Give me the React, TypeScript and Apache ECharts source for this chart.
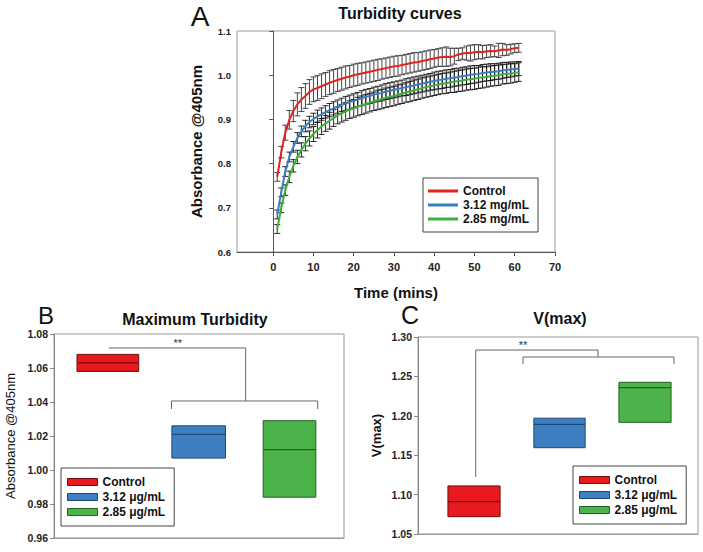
import React, { useEffect, useRef } from "react";
import * as echarts from "echarts";

const FONT = "'Liberation Sans', Arial, Helvetica, sans-serif";

// ---------- Panel A data ----------
const TIME_MIN = [
  1, 2, 3, 4, 5, 6, 7, 8, 9, 10, 11, 12, 13, 14, 15, 16, 17, 18, 19, 20,
  21, 22, 23, 24, 25, 26, 27, 28, 29, 30, 31, 32, 33, 34, 35, 36, 37, 38, 39, 40,
  41, 42, 43, 44, 45, 46, 47, 48, 49, 50, 51, 52, 53, 54, 55, 56, 57, 58, 59, 60, 61,
];
const CONTROL_ABS = [
  0.770, 0.826, 0.870, 0.899, 0.919, 0.934, 0.945, 0.953, 0.962, 0.968,
  0.971, 0.975, 0.979, 0.983, 0.986, 0.989, 0.992, 0.995, 0.997, 1.000,
  1.002, 1.004, 1.006, 1.008, 1.010, 1.012, 1.014, 1.016, 1.018, 1.020,
  1.021, 1.023, 1.025, 1.027, 1.029, 1.030, 1.032, 1.034, 1.036, 1.038,
  1.040, 1.041, 1.042, 1.041, 1.043, 1.047, 1.049, 1.050, 1.050, 1.052,
  1.053, 1.052, 1.054, 1.055, 1.054, 1.056, 1.058, 1.057, 1.059, 1.061, 1.062,
];
const CONTROL_ERR = [
  0.010, 0.013, 0.017, 0.021, 0.024, 0.026, 0.027, 0.028, 0.028, 0.028,
  0.028, 0.028, 0.027, 0.027, 0.027, 0.026, 0.026, 0.026, 0.025, 0.025,
  0.025, 0.024, 0.024, 0.024, 0.024, 0.024, 0.023, 0.023, 0.023, 0.023,
  0.023, 0.022, 0.022, 0.022, 0.022, 0.021, 0.021, 0.021, 0.021, 0.020,
  0.020, 0.021, 0.022, 0.020, 0.018, 0.014, 0.013, 0.016, 0.018, 0.017,
  0.016, 0.015, 0.014, 0.014, 0.012, 0.016, 0.014, 0.012, 0.011, 0.010, 0.010,
];
const DOSE312_ABS = [
  0.685, 0.735, 0.782, 0.815, 0.838, 0.858, 0.873, 0.885, 0.894, 0.901,
  0.907, 0.912, 0.917, 0.921, 0.925, 0.929, 0.933, 0.936, 0.939, 0.942,
  0.945, 0.948, 0.951, 0.953, 0.956, 0.958, 0.960, 0.963, 0.965, 0.967,
  0.969, 0.971, 0.973, 0.975, 0.977, 0.979, 0.981, 0.983, 0.985, 0.987,
  0.989, 0.990, 0.992, 0.993, 0.995, 0.996, 0.998, 0.999, 1.001, 1.002,
  1.003, 1.005, 1.006, 1.007, 1.008, 1.009, 1.011, 1.012, 1.013, 1.014, 1.015,
];
const DOSE312_ERR = [
  0.010, 0.010, 0.011, 0.011, 0.012, 0.012, 0.012, 0.013, 0.013, 0.013,
  0.014, 0.014, 0.014, 0.015, 0.015, 0.015, 0.015, 0.016, 0.016, 0.016,
  0.016, 0.017, 0.017, 0.017, 0.017, 0.017, 0.018, 0.018, 0.018, 0.018,
  0.018, 0.018, 0.019, 0.019, 0.019, 0.019, 0.019, 0.019, 0.019, 0.020,
  0.020, 0.020, 0.020, 0.020, 0.020, 0.020, 0.020, 0.020, 0.020, 0.020,
  0.019, 0.019, 0.019, 0.019, 0.018, 0.018, 0.018, 0.017, 0.017, 0.016, 0.016,
];
const DOSE285_ABS = [
  0.652, 0.700, 0.740, 0.770, 0.795, 0.815, 0.831, 0.845, 0.857, 0.867,
  0.876, 0.884, 0.891, 0.897, 0.903, 0.909, 0.914, 0.918, 0.922, 0.925,
  0.929, 0.932, 0.935, 0.938, 0.941, 0.944, 0.946, 0.949, 0.951, 0.953,
  0.956, 0.958, 0.961, 0.963, 0.966, 0.968, 0.971, 0.973, 0.975, 0.977,
  0.979, 0.981, 0.982, 0.984, 0.985, 0.987, 0.988, 0.990, 0.991, 0.992,
  0.994, 0.995, 0.996, 0.998, 0.999, 1.000, 1.002, 1.003, 1.004, 1.005, 1.007,
];
const DOSE285_ERR = [
  0.010, 0.011, 0.012, 0.013, 0.014, 0.015, 0.016, 0.016, 0.017, 0.017,
  0.018, 0.018, 0.018, 0.019, 0.019, 0.019, 0.020, 0.020, 0.020, 0.020,
  0.021, 0.021, 0.021, 0.021, 0.021, 0.022, 0.022, 0.022, 0.022, 0.022,
  0.022, 0.022, 0.022, 0.023, 0.023, 0.023, 0.023, 0.023, 0.023, 0.023,
  0.023, 0.023, 0.023, 0.023, 0.024, 0.024, 0.024, 0.024, 0.024, 0.024,
  0.024, 0.024, 0.023, 0.023, 0.023, 0.023, 0.022, 0.022, 0.022, 0.021, 0.021,
];
const A_X_TICKS = [0, 10, 20, 30, 40, 50, 60, 70];
const A_NAMES = ["Control", "3.12 mg/mL", "2.85 mg/mL"];

// ---------- Panel B / C data ----------
const BC_NAMES = ["Control", "3.12 \u03bcg/mL", "2.85 \u03bcg/mL"];
const MAXTURB_LOW = [1.058, 1.007, 0.984];
const MAXTURB_MED = [1.063, 1.021, 1.012];
const MAXTURB_HIGH = [1.068, 1.026, 1.029];
const VMAX_LOW = [1.072, 1.1595, 1.1917];
const VMAX_MED = [1.091, 1.189, 1.2357];
const VMAX_HIGH = [1.111, 1.197, 1.2425];

// ---------- styles ----------
const LINE_COLORS = ["#e2231a", "#3a7dc2", "#3daf3c"];
const BOX_FILLS = ["#e8191f", "#3d7fc1", "#4cb34a"];
const BOX_STROKES = ["#6e1010", "#1f4a78", "#245f24"];
const ERR_COLORS = ["#333333", "#111111", "#111111"];
const BOX_W_B = [0.68, 0.59, 0.58];
const BOX_W_C = [0.61, 0.6, 0.61];

function errorBarRender(color: string) {
  return (_p: any, api: any) => {
    const x = api.value(0);
    const lo = api.coord([x, api.value(1)]);
    const hi = api.coord([x, api.value(2)]);
    const cap = 3;
    return {
      type: "group",
      children: [
        { type: "line", shape: { x1: lo[0], y1: lo[1], x2: hi[0], y2: hi[1] }, style: { stroke: color, lineWidth: 0.9 } },
        { type: "line", shape: { x1: lo[0] - cap, y1: lo[1], x2: lo[0] + cap, y2: lo[1] }, style: { stroke: color, lineWidth: 0.9 } },
        { type: "line", shape: { x1: hi[0] - cap, y1: hi[1], x2: hi[0] + cap, y2: hi[1] }, style: { stroke: color, lineWidth: 0.9 } },
      ],
    };
  };
}

function boxRender(fill: string, stroke: string, width: number) {
  return (_p: any, api: any) => {
    const x = api.value(0);
    const lo = api.coord([x, api.value(1)]);
    const med = api.coord([x, api.value(2)]);
    const hi = api.coord([x, api.value(3)]);
    const w = api.size([width, 0])[0];
    return {
      type: "group",
      children: [
        {
          type: "rect",
          shape: { x: lo[0] - w / 2, y: hi[1], width: w, height: lo[1] - hi[1] },
          style: { fill, stroke, lineWidth: 1 },
        },
        {
          type: "line",
          shape: { x1: lo[0] - w / 2, y1: med[1], x2: lo[0] + w / 2, y2: med[1] },
          style: { stroke, lineWidth: 1.3 },
        },
      ],
    };
  };
}

// bracket annotation geometry (axis units)
const BRACKET_B = { topY: 1.0718, midY: 1.0406, endY: 1.0359, x0: 1.01, xMid: 2.517, x1: 1.7, x2: 3.31, starX: 1.77, starY: 1.0747 };
const BRACKET_C = { topY: 1.2835, leftDownY: 1.1223, midY: 1.2746, endY: 1.2657, x0: 1.02, xMid: 2.45, x1: 1.573, x2: 3.339, starX: 1.573, starY: 1.2898 };

const mkBracketStyle = () => ({ stroke: "#666666", lineWidth: 1, fill: "none" });
const mkStarStyle = () => ({ text: "**", fontSize: 11, fontFamily: FONT, fill: "#333333", stroke: "none", align: "center", verticalAlign: "middle" });

export default function App() {
  const ref = useRef<HTMLDivElement>(null);

  useEffect(() => {
    document.body.style.margin = "0";
    const chart = echarts.init(ref.current!, undefined, { renderer: "svg" });

    const bracketBRender = (_p: any, api: any) => {
      const b = BRACKET_B;
      const p = (x: number, y: number) => api.coord([x, y]);
      const s = p(b.starX, b.starY);
      return {
        type: "group",
        children: [
          { type: "polyline", shape: { points: [p(b.x0, b.topY), p(b.xMid, b.topY), p(b.xMid, b.midY)] }, style: mkBracketStyle() },
          { type: "polyline", shape: { points: [p(b.x1, b.endY), p(b.x1, b.midY), p(b.x2, b.midY), p(b.x2, b.endY)] }, style: mkBracketStyle() },
          { type: "text", x: s[0], y: s[1], style: mkStarStyle() },
        ],
      };
    };
    const bracketCRender = (_p: any, api: any) => {
      const b = BRACKET_C;
      const p = (x: number, y: number) => api.coord([x, y]);
      const s = p(b.starX, b.starY);
      return {
        type: "group",
        children: [
          { type: "polyline", shape: { points: [p(b.x0, b.leftDownY), p(b.x0, b.topY), p(b.xMid, b.topY), p(b.xMid, b.midY)] }, style: mkBracketStyle() },
          { type: "polyline", shape: { points: [p(b.x1, b.endY), p(b.x1, b.midY), p(b.x2, b.midY), p(b.x2, b.endY)] }, style: mkBracketStyle() },
          { type: "text", x: s[0], y: s[1], style: mkStarStyle() },
        ],
      };
    };

    const aValues = [CONTROL_ABS, DOSE312_ABS, DOSE285_ABS];
    const aErrs = [CONTROL_ERR, DOSE312_ERR, DOSE285_ERR];

    const series: any[] = [];
    aValues.forEach((vals, k) => {
      series.push({
        type: "custom",
        name: A_NAMES[k] + " err",
        xAxisIndex: 0,
        yAxisIndex: 0,
        renderItem: errorBarRender(ERR_COLORS[k]),
        encode: { x: 0, y: [1, 2] },
        itemStyle: { color: ERR_COLORS[k] },
        data: TIME_MIN.map((t, i) => [t, vals[i] - aErrs[k][i], vals[i] + aErrs[k][i]]),
        z: 2,
        silent: true,
      });
    });
    [2, 1, 0].forEach((k) => {
      series.push({
        type: "line",
        name: A_NAMES[k],
        xAxisIndex: 0,
        yAxisIndex: 0,
        data: TIME_MIN.map((t, i) => [t, aValues[k][i]]),
        showSymbol: false,
        lineStyle: { color: LINE_COLORS[k], width: 2 },
        itemStyle: { color: LINE_COLORS[k] },
        z: 3 + (2 - k),
      });
    });
    BC_NAMES.forEach((name, i) => {
      series.push({
        type: "custom",
        name,
        xAxisIndex: 1,
        yAxisIndex: 1,
        renderItem: boxRender(BOX_FILLS[i], BOX_STROKES[i], BOX_W_B[i]),
        encode: { x: 0, y: [1, 2, 3] },
        itemStyle: { color: BOX_FILLS[i] },
        data: [[i + 1, MAXTURB_LOW[i], MAXTURB_MED[i], MAXTURB_HIGH[i]]],
      });
    });
    BC_NAMES.forEach((name, i) => {
      series.push({
        type: "custom",
        name,
        xAxisIndex: 2,
        yAxisIndex: 2,
        renderItem: boxRender(BOX_FILLS[i], BOX_STROKES[i], BOX_W_C[i]),
        encode: { x: 0, y: [1, 2, 3] },
        itemStyle: { color: BOX_FILLS[i] },
        data: [[i + 1, VMAX_LOW[i], VMAX_MED[i], VMAX_HIGH[i]]],
      });
    });
    series.push({
      type: "custom",
      name: "bracketB",
      xAxisIndex: 1,
      yAxisIndex: 1,
      renderItem: bracketBRender,
      encode: { x: 0, y: 1 },
      itemStyle: { color: "#333333" },
      data: [[2, 1.05]],
      silent: true,
    });
    series.push({
      type: "custom",
      name: "bracketC",
      xAxisIndex: 2,
      yAxisIndex: 2,
      renderItem: bracketCRender,
      encode: { x: 0, y: 1 },
      itemStyle: { color: "#333333" },
      data: [[2, 1.2]],
      silent: true,
    });

    const tickLabel = (size: number) => ({
      fontFamily: FONT,
      fontWeight: "bold" as const,
      fontSize: size,
      color: "#222",
    });

    const legendBase = {
      orient: "vertical",
      icon: "rect",
      itemWidth: 30,
      borderColor: "#444",
      borderWidth: 1,
      borderRadius: 0,
      selectedMode: false,
      backgroundColor: "#fff",
      textStyle: { fontFamily: FONT, fontWeight: "bold", fontSize: 12, color: "#111" },
    };

    const option: any = {
      animation: false,
      backgroundColor: "#fff",
      grid: [
        { left: 237, top: 31, width: 318, height: 221, show: true, borderColor: "#999", borderWidth: 1, backgroundColor: "transparent" },
        { left: 54, top: 334, width: 290, height: 204, show: true, borderColor: "#999", borderWidth: 1, backgroundColor: "transparent" },
        { left: 418, top: 337, width: 280, height: 197, show: true, borderColor: "#999", borderWidth: 1, backgroundColor: "transparent" },
      ],
      xAxis: [
        {
          gridIndex: 0,
          type: "value",
          min: -9,
          max: 70,
          name: "Time (mins)",
          nameLocation: "middle",
          nameGap: 33,
          nameTextStyle: { fontFamily: FONT, fontWeight: "bold", fontSize: 15, color: "#111" },
          axisLine: { lineStyle: { color: "#555" } },
          axisTick: { show: true, length: 4, customValues: A_X_TICKS, lineStyle: { color: "#555" } },
          axisLabel: { ...tickLabel(11), margin: 9, customValues: A_X_TICKS },
          splitLine: { show: false },
        },
        {
          gridIndex: 1,
          type: "value",
          min: 0.407,
          max: 3.6,
          axisLine: { show: true, lineStyle: { color: "#999" } },
          axisTick: { show: false },
          axisLabel: { show: false },
          splitLine: { show: false },
        },
        {
          gridIndex: 2,
          type: "value",
          min: 0.345,
          max: 3.62,
          axisLine: { show: true, lineStyle: { color: "#999" } },
          axisTick: { show: false },
          axisLabel: { show: false },
          splitLine: { show: false },
        },
      ],
      yAxis: [
        {
          gridIndex: 0,
          type: "value",
          min: 0.6,
          max: 1.1,
          interval: 0.1,
          name: "Absorbance @405nm",
          nameLocation: "middle",
          nameGap: 33,
          nameTextStyle: { fontFamily: FONT, fontWeight: "bold", fontSize: 15, color: "#111" },
          axisLine: { show: true, lineStyle: { color: "#555" } },
          axisTick: { show: true, length: 4, lineStyle: { color: "#555" } },
          axisLabel: { ...tickLabel(9.5), margin: 6, formatter: (v: number) => v.toFixed(1) },
          splitLine: { show: false },
        },
        {
          gridIndex: 1,
          type: "value",
          min: 0.96,
          max: 1.08,
          interval: 0.02,
          name: "Absorbance @405nm",
          nameLocation: "middle",
          nameGap: 37,
          nameTextStyle: { fontFamily: FONT, fontSize: 13, color: "#111" },
          axisLine: { show: true, lineStyle: { color: "#888" } },
          axisTick: { show: true, length: 4, lineStyle: { color: "#888" } },
          axisLabel: { ...tickLabel(10.5), margin: 6, formatter: (v: number) => v.toFixed(2) },
          splitLine: { show: false },
        },
        {
          gridIndex: 2,
          type: "value",
          min: 1.05,
          max: 1.3,
          interval: 0.05,
          name: "V(max)",
          nameLocation: "middle",
          nameGap: 35,
          nameTextStyle: { fontFamily: FONT, fontWeight: "bold", fontSize: 13, color: "#111" },
          axisLine: { show: true, lineStyle: { color: "#888" } },
          axisTick: { show: true, length: 4, lineStyle: { color: "#888" } },
          axisLabel: { ...tickLabel(10.5), margin: 6, formatter: (v: number) => v.toFixed(2) },
          splitLine: { show: false },
        },
      ],
      legend: [
        {
          ...legendBase,
          left: 423,
          top: 178,
          itemHeight: 3,
          itemGap: 2,
          padding: [7, 9, 7, 5],
          data: A_NAMES.map((n, i) => ({ name: n, icon: "rect", itemStyle: { color: LINE_COLORS[i] } })),
        },
        {
          ...legendBase,
          left: 61,
          top: 468,
          itemHeight: 7,
          itemGap: 3,
          padding: [8, 9, 8, 6],
          data: BC_NAMES.map((n, i) => ({ name: n, icon: "rect", itemStyle: { color: BOX_FILLS[i], borderColor: BOX_STROKES[i], borderWidth: 1 } })),
        },
        {
          ...legendBase,
          left: 573,
          top: 466,
          itemHeight: 7,
          itemGap: 3,
          padding: [8, 9, 8, 6],
          data: BC_NAMES.map((n, i) => ({ name: n, icon: "rect", itemStyle: { color: BOX_FILLS[i], borderColor: BOX_STROKES[i], borderWidth: 1 } })),
        },
      ],
      graphic: [
        { type: "text", x: 200, y: 16, style: { text: "A", fontSize: 28, fontFamily: FONT, fill: "#111", align: "center", verticalAlign: "middle" } },
        { type: "text", x: 400, y: 13, style: { text: "Turbidity curves", fontSize: 16, fontWeight: "bold", fontFamily: FONT, fill: "#111", align: "center", verticalAlign: "middle" } },
        { type: "text", x: 46, y: 315, style: { text: "B", fontSize: 24, fontFamily: FONT, fill: "#111", align: "center", verticalAlign: "middle" } },
        { type: "text", x: 195, y: 319, style: { text: "Maximum Turbidity", fontSize: 16, fontWeight: "bold", fontFamily: FONT, fill: "#111", align: "center", verticalAlign: "middle" } },
        { type: "text", x: 410, y: 315, style: { text: "C", fontSize: 25, fontFamily: FONT, fill: "#111", align: "center", verticalAlign: "middle" } },
        { type: "text", x: 560, y: 318, style: { text: "V(max)", fontSize: 16, fontWeight: "bold", fontFamily: FONT, fill: "#111", align: "center", verticalAlign: "middle" } },
      ],
      series,
    };

    chart.setOption(option);
    return () => chart.dispose();
  }, []);

  return <div ref={ref} style={{ width: 703, height: 552 }} />;
}
